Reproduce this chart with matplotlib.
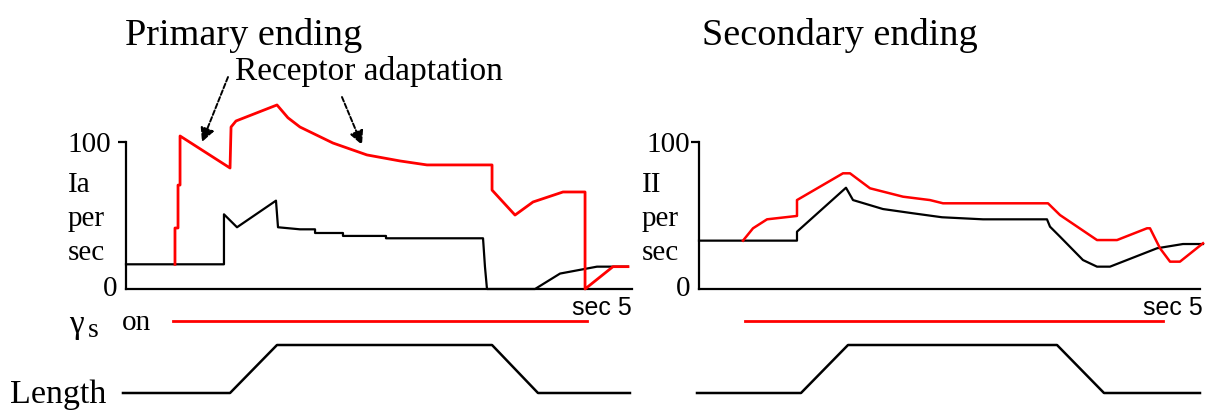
import matplotlib
matplotlib.use("Agg")
import matplotlib.pyplot as plt

# ---------------- data (time in s, rate in impulses/s) ----------------
left_black_t = [0, 0.968, 0.968, 1.097, 1.482, 1.502, 1.719, 1.868, 1.868, 2.144, 2.144,
                2.569, 2.569, 3.528, 3.547, 3.567, 4.042, 4.289, 4.654, 4.960]
left_black_v = [16.8, 16.8, 50.8, 42.0, 60.1, 42.0, 40.6, 40.6, 38.1, 38.1, 36.1,
                36.1, 34.5, 34.5, 15.2, 0, 0, 10.5, 15.2, 15.2]

left_red_t = [0.484, 0.484, 0.514, 0.514, 0.534, 0.534, 1.028, 1.038, 1.087, 1.492, 1.600,
              1.719, 2.045, 2.381, 2.708, 2.974, 3.617, 3.617, 3.844, 4.022, 4.318, 4.536,
              4.536, 4.812, 4.960]
left_red_v = [16.8, 41.5, 41.5, 70.7, 70.7, 104.1, 82.3, 110.2, 114.3, 125.2, 116.5,
              110.2, 99.3, 91.2, 87.1, 84.4, 84.4, 67.3, 50.3, 59.2, 66.0, 66.0,
              0, 15.2, 15.2]

right_black_t = [0, 0.978, 0.978, 1.467, 1.537, 1.836, 2.136, 2.425, 2.834, 3.473, 3.503,
                 3.603, 3.832, 3.972, 4.102, 4.571, 4.830, 5.030]
right_black_v = [32.9, 32.9, 39.0, 68.9, 60.5, 54.4, 51.5, 48.8, 47.4, 47.4, 42.4,
                 35.6, 19.7, 15.2, 15.2, 27.7, 30.6, 30.6]

right_red_t = [0.439, 0.539, 0.679, 0.978, 0.978, 1.437, 1.507, 1.707, 2.036, 2.305, 2.435,
               3.483, 3.603, 3.972, 4.172, 4.471, 4.501, 4.601, 4.701, 4.800, 5.030]
right_red_v = [32.9, 41.3, 47.4, 49.7, 60.5, 78.7, 78.7, 68.5, 62.8, 60.5, 58.3,
               58.3, 50.3, 33.3, 33.3, 41.3, 41.3, 27.7, 18.6, 18.6, 31.1]

gamma_left = [0.464, 4.555]
gamma_right = [0.459, 4.631]
gamma_level = [1.5, 1.5]

length_t_left = [-0.030, 1.028, 1.492, 3.617, 4.071, 4.980]
length_t_right = [-0.020, 1.018, 1.487, 3.573, 4.042, 5.000]
length_v = [0, 0, 1, 1, 0, 0]

titles = ["Primary ending", "Secondary ending"]
fiber_labels = ["Ia", "II"]

# ---------------- figure ----------------
W, H = 1205, 412
fig = plt.figure(figsize=(W / 100, H / 100), dpi=100)
SERIF = "Liberation Serif"
SANS = "Liberation Sans"


def fx(x):
    return x / W


def fy(y):
    return 1 - y / H


def rate_axes(x0, x1, tickpad):
    ax = fig.add_axes([fx(x0), fy(289), (x1 - x0) / W, 147 / H])
    ax.set_xlim(0, 5)
    ax.set_ylim(0, 100)
    ax.patch.set_alpha(0)
    for s in ("top", "right"):
        ax.spines[s].set_visible(False)
    for s in ("left", "bottom"):
        ax.spines[s].set_linewidth(1.6)
        ax.spines[s].set_capstyle("projecting")
    ax.set_xticks([])
    ax.set_yticks([100])
    ax.set_yticklabels(["100"], fontfamily=SERIF, fontsize=21)
    ax.tick_params(axis="y", length=6, width=1.6, direction="out", pad=tickpad)
    return ax


def length_axes(x0, x1):
    ax = fig.add_axes([fx(x0), fy(393), (x1 - x0) / W, 48 / H])
    ax.set_xlim(0, 5)
    ax.set_ylim(0, 1)
    ax.axis("off")
    return ax


axL = rate_axes(126, 632, 4.5)
axR = rate_axes(699, 1200, 0.5)

axL.plot(left_black_t, left_black_v, color="black", lw=1.6, clip_on=False, zorder=3)
axL.plot(left_red_t, left_red_v, color="#ff0000", lw=2.0, clip_on=False, zorder=4,
         solid_joinstyle="round")
axR.plot(right_black_t, right_black_v, color="black", lw=1.6, clip_on=False, zorder=3)
axR.plot(right_red_t, right_red_v, color="#ff0000", lw=1.8, clip_on=False, zorder=4)

# zero labels
for ax, xoff in ((axL, -9), (axR, -9)):
    ax.annotate("0", xy=(0, 0), xycoords="data", xytext=(xoff, 0),
                textcoords="offset pixels", ha="right", va="center",
                fontfamily=SERIF, fontsize=21, annotation_clip=False)

# lower traces
bL = length_axes(126, 632)
bR = length_axes(699, 1200)
bL.plot(gamma_left, gamma_level, color="#ff0000", lw=2.0, clip_on=False)
bR.plot(gamma_right, gamma_level, color="#ff0000", lw=2.0, clip_on=False)
bL.plot(length_t_left, length_v, color="black", lw=1.8, clip_on=False)
bR.plot(length_t_right, length_v, color="black", lw=1.8, clip_on=False)

# titles
fig.text(fx(125), fy(45), titles[0], fontfamily=SERIF, fontsize=27.5, va="baseline")
fig.text(fx(702), fy(45), titles[1], fontfamily=SERIF, fontsize=27.5, va="baseline")

# y-axis word labels
for xl, lab in ((68, fiber_labels[0]), (642, fiber_labels[1])):
    fig.text(fx(xl), fy(192), lab, fontfamily=SERIF, fontsize=21, va="baseline")
    fig.text(fx(xl), fy(226), "per", fontfamily=SERIF, fontsize=21, va="baseline")
    fig.text(fx(xl), fy(260), "sec", fontfamily=SERIF, fontsize=21, va="baseline")

# sec 5
for xr in (632, 1203):
    fig.text(fx(xr), fy(315), "sec 5", fontfamily=SANS, fontsize=18, ha="right", va="baseline")

# gamma s on / Length
fig.text(fx(69), fy(333), "γ", fontfamily=SERIF, fontsize=24, va="baseline")
fig.text(fx(88), fy(337), "s", fontfamily=SERIF, fontsize=20, va="baseline")
fig.text(fx(122), fy(330), "on", fontfamily=SERIF, fontsize=21, va="baseline")
fig.text(fx(10), fy(403), "Length", fontfamily=SERIF, fontsize=24.5, va="baseline")

# receptor adaptation annotation
axL.text(1.08, 142.5, "Receptor adaptation", fontfamily=SERIF, fontsize=24,
         va="baseline", ha="left", clip_on=False)
arrow_kw = dict(arrowstyle="-|>,head_length=0.6,head_width=0.3", color="black", lw=1.4,
                linestyle=(0, (2.5, 1.2)), shrinkA=0, shrinkB=0, mutation_scale=14)
axL.annotate("", xy=(0.751, 100.0), xytext=(1.008, 144.2), xycoords="data",
             arrowprops=arrow_kw, annotation_clip=False)
axL.annotate("", xy=(2.332, 98.0), xytext=(2.134, 130.6), xycoords="data",
             arrowprops=arrow_kw, annotation_clip=False)

fig.savefig("out.png", dpi=100)
